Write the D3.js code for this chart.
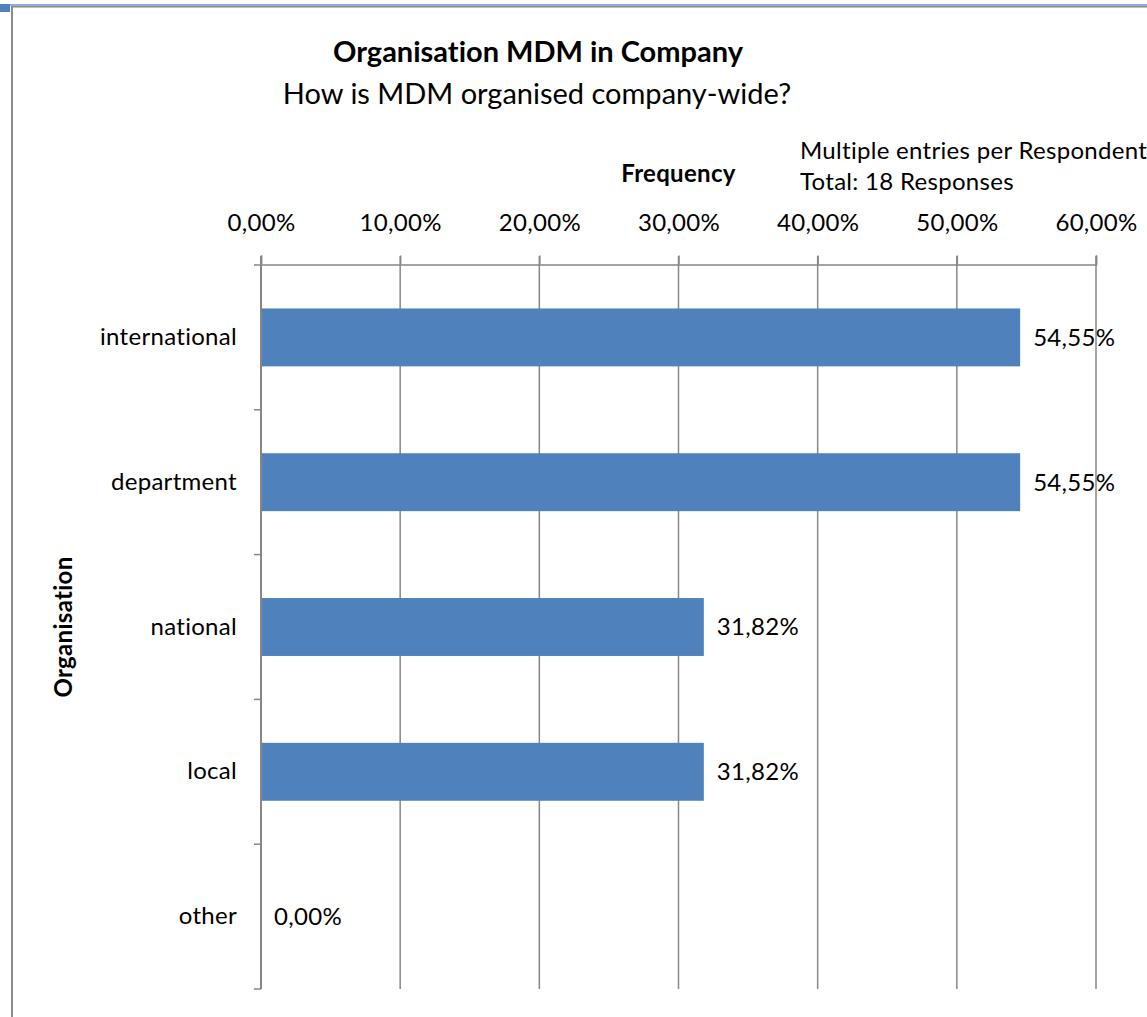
<!DOCTYPE html>
<html>
<head>
<meta charset="utf-8">
<script src="https://cdn.jsdelivr.net/npm/d3@7"></script>
<style>
  body { margin: 0; background: #fff; }
  svg { display: block; font-family: Lato, "Open Sans", sans-serif; font-variant-ligatures: none; }
  .lbl { letter-spacing: 0.3px; }
</style>
</head>
<body>
<svg width="1147" height="1017"></svg>
<script>
const categories = ['international', 'department', 'national', 'local', 'other'];
const values = [0.5455, 0.5455, 0.3182, 0.3182, 0];
const tickValues = [0, 0.1, 0.2, 0.3, 0.4, 0.5, 0.6];
const valueLabels = ['54,55%', '54,55%', '31,82%', '31,82%', '0,00%'];

const w = 1147;
const h = 1017;
const plotLeft = 261;
const plotRight = 1096;
const plotTop = 265;
const plotBottom = 989;
const labelSize = 24;

const svg = d3.select('svg');

const fmt = v => (v * 100).toFixed(2).replace('.', ',') + '%';

// window frame bits
svg.append('rect').attr('x', 0).attr('y', 0).attr('width', w).attr('height', h).attr('fill', '#fff');
svg.append('rect').attr('x', 0).attr('y', 4).attr('width', w).attr('height', 2).attr('fill', '#8eb0d8');
svg.append('rect').attr('x', 0).attr('y', 4).attr('width', 10).attr('height', 8).attr('fill', '#4f81bd');
svg.append('rect').attr('x', 11).attr('y', 6).attr('width', w).attr('height', 1.5).attr('fill', '#8a8a8a');
svg.append('rect').attr('x', 11).attr('y', 6).attr('width', 2).attr('height', h).attr('fill', '#8a8a8a');

const x = d3.scaleLinear()
  .domain([0, 0.6])
  .range([plotLeft, plotRight]);

const y = d3.scaleBand()
  .domain(categories)
  .range([plotTop, plotBottom])
  .paddingInner(0.6)
  .paddingOuter(0.3);

// gridlines
svg.append('g')
  .selectAll('line')
  .data(tickValues.slice(1))
  .enter()
  .append('line')
  .attr('x1', d => x(d))
  .attr('x2', d => x(d))
  .attr('y1', plotTop - 9)
  .attr('y2', plotBottom)
  .attr('stroke', '#878787')
  .attr('stroke-width', 1.5);

// x axis on top
const xAxis = d3.axisTop(x)
  .tickValues(tickValues)
  .tickFormat(fmt)
  .tickSize(9)
  .tickPadding(25);
const gx = svg.append('g')
  .attr('transform', `translate(0, ${plotTop - 0.5})`)
  .call(xAxis);
gx.select('.domain').attr('stroke', '#878787').attr('stroke-width', 1.5);
gx.selectAll('.tick line').attr('stroke', '#878787').attr('stroke-width', 1.5);
gx.selectAll('.tick text')
  .attr('class', 'lbl')
  .attr('font-size', labelSize)
  .attr('font-family', 'Lato, sans-serif')
  .attr('fill', '#000');

// y axis
const yAxis = d3.axisLeft(y).tickSize(0).tickPadding(24);
const gy = svg.append('g')
  .attr('transform', `translate(${plotLeft}, 0)`)
  .call(yAxis);
gy.select('.domain').remove();
gy.selectAll('.tick text')
  .attr('class', 'lbl')
  .attr('font-size', labelSize)
  .attr('font-family', 'Lato, sans-serif')
  .attr('fill', '#000');

svg.append('line')
  .attr('x1', plotLeft).attr('x2', plotLeft)
  .attr('y1', plotTop - 9).attr('y2', plotBottom)
  .attr('stroke', '#878787')
  .attr('stroke-width', 2);

const bounds = categories.map(c => y(c) - y.step() * y.paddingInner() / 2)
  .concat([plotBottom]);
bounds[0] = plotTop;
svg.append('g')
  .selectAll('line')
  .data(bounds)
  .enter()
  .append('line')
  .attr('x1', plotLeft - 7)
  .attr('x2', plotLeft)
  .attr('y1', d => d)
  .attr('y2', d => d)
  .attr('stroke', '#878787')
  .attr('stroke-width', 1.5);

// bars
svg.append('g')
  .selectAll('rect')
  .data(categories)
  .enter()
  .append('rect')
  .attr('x', plotLeft + 1)
  .attr('y', d => y(d))
  .attr('width', (d, i) => Math.max(x(values[i]) - plotLeft - 1, 0))
  .attr('height', y.bandwidth())
  .attr('fill', '#4f81bd');

// value labels
svg.append('g')
  .selectAll('text')
  .data(categories)
  .enter()
  .append('text')
  .attr('class', 'lbl')
  .attr('x', (d, i) => x(values[i]) + 13)
  .attr('y', d => y(d) + y.bandwidth() / 2)
  .attr('dy', '0.35em')
  .attr('font-size', labelSize)
  .text((d, i) => valueLabels[i]);

// titles
svg.append('text')
  .attr('x', 538)
  .attr('y', 62)
  .attr('text-anchor', 'middle')
  .attr('font-size', 29)
  .attr('font-weight', 'bold')
  .text('Organisation MDM in Company');

svg.append('text')
  .attr('x', 537)
  .attr('y', 104)
  .attr('text-anchor', 'middle')
  .attr('font-size', 29)
  .text('How is MDM organised company-wide?');

svg.append('text')
  .attr('class', 'lbl')
  .attr('x', x(0.3))
  .attr('y', 182)
  .attr('text-anchor', 'middle')
  .attr('font-size', labelSize)
  .attr('font-weight', 'bold')
  .text('Frequency');

svg.append('text')
  .attr('class', 'lbl')
  .attr('x', 800)
  .attr('y', 159)
  .attr('font-size', labelSize)
  .text('Multiple entries per Respondent');

svg.append('text')
  .attr('class', 'lbl')
  .attr('x', 800)
  .attr('y', 190)
  .attr('font-size', labelSize)
  .text('Total: 18 Responses');

svg.append('text')
  .attr('class', 'lbl')
  .attr('transform', `translate(72, ${(plotTop + plotBottom) / 2}) rotate(-90)`)
  .attr('text-anchor', 'middle')
  .attr('font-size', labelSize)
  .attr('font-weight', 'bold')
  .text('Organisation');
</script>
</body>
</html>
